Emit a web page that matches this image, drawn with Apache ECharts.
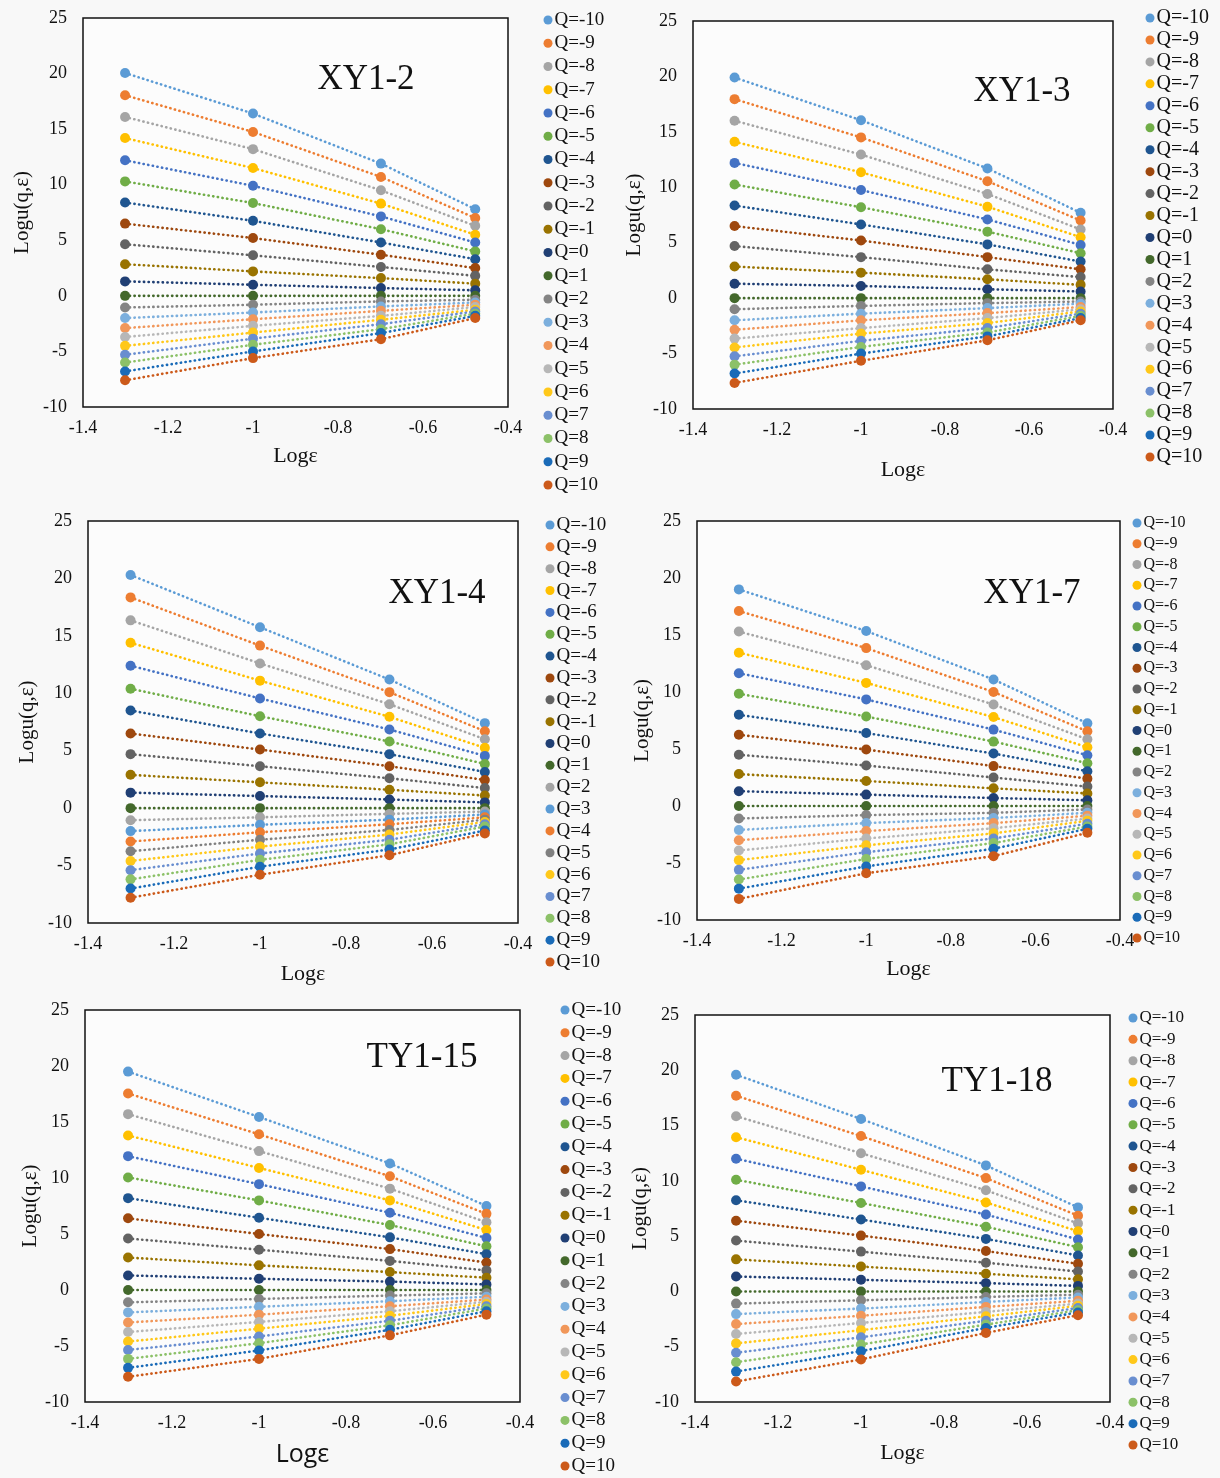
<!DOCTYPE html>
<html>
<head>
<meta charset="utf-8">
<script src="https://cdn.jsdelivr.net/npm/echarts@6/dist/echarts.min.js"></script>
<style>
  html, body { margin: 0; padding: 0; background: #f8f8f8; }
  #chart { width: 1220px; height: 1478px; }
</style>
</head>
<body>
<div id="chart"></div>
<script>
// ---------------- DATA ----------------
const X_VALUES = [-1.30103, -1, -0.69897, -0.47712];   // log(epsilon)
const Q_LABELS = ['Q=-10','Q=-9','Q=-8','Q=-7','Q=-6','Q=-5','Q=-4','Q=-3','Q=-2','Q=-1',
                  'Q=0','Q=1','Q=2','Q=3','Q=4','Q=5','Q=6','Q=7','Q=8','Q=9','Q=10'];
const X_TICKS = [-1.4, -1.2, -1, -0.8, -0.6, -0.4];
const Y_TICKS = [-10, -5, 0, 5, 10, 15, 20, 25];
const PANEL_NAMES = ['XY1-2', 'XY1-3', 'XY1-4', 'XY1-7', 'TY1-15', 'TY1-18'];

// values: one row per Q (Q=-10 ... Q=10), one column per X_VALUES entry
const XY1_2 = [
  [20.05,16.4,11.9,7.8],[18.05,14.75,10.7,7.0],[16.1,13.2,9.5,6.3],[14.2,11.5,8.3,5.5],
  [12.2,9.9,7.15,4.8],[10.3,8.35,6.0,4.0],[8.4,6.75,4.8,3.3],[6.5,5.2,3.7,2.5],
  [4.65,3.65,2.6,1.8],[2.85,2.2,1.6,1.1],[1.3,1.0,0.7,0.5],[0,0,0,0],
  [-1.05,-0.8,-0.5,-0.35],[-2.0,-1.5,-0.95,-0.6],[-2.9,-2.1,-1.35,-0.8],[-3.7,-2.7,-1.8,-1.0],
  [-4.5,-3.3,-2.15,-1.25],[-5.3,-3.85,-2.55,-1.4],[-6.0,-4.4,-3.0,-1.6],[-6.8,-5.0,-3.35,-1.8],
  [-7.6,-5.6,-3.9,-2.0]
];
const XY1_3 = [
  [19.9,16.05,11.7,7.7],[17.95,14.5,10.55,7.0],[16.0,12.95,9.4,6.2],[14.1,11.35,8.25,5.5],
  [12.2,9.75,7.1,4.8],[10.25,8.2,6.0,4.05],[8.35,6.65,4.85,3.3],[6.5,5.2,3.7,2.6],
  [4.7,3.7,2.6,1.9],[2.85,2.3,1.7,1.2],[1.3,1.1,0.8,0.6],[0,0,0,0],
  [-1.0,-0.7,-0.45,-0.3],[-2.0,-1.4,-0.9,-0.5],[-2.85,-2.0,-1.35,-0.8],[-3.65,-2.7,-1.8,-1.0],
  [-4.45,-3.2,-2.25,-1.2],[-5.25,-3.85,-2.7,-1.4],[-6.0,-4.4,-3.1,-1.6],[-6.8,-5.0,-3.45,-1.8],
  [-7.65,-5.65,-3.8,-2.0]
];
const XY1_4 = [
  [20.3,15.75,11.2,7.4],[18.35,14.15,10.1,6.7],[16.35,12.6,9.05,6.0],[14.4,11.1,7.95,5.25],
  [12.4,9.55,6.85,4.55],[10.4,8.0,5.8,3.85],[8.5,6.5,4.7,3.15],[6.5,5.1,3.65,2.45],
  [4.7,3.65,2.6,1.75],[2.9,2.25,1.6,1.1],[1.35,1.05,0.75,0.5],[0,0,0,0],
  [-1.05,-0.8,-0.5,-0.3],[-2.0,-1.45,-1.0,-0.55],[-2.9,-2.1,-1.4,-0.8],[-3.75,-2.75,-1.9,-1.0],
  [-4.6,-3.35,-2.3,-1.2],[-5.4,-3.95,-2.75,-1.4],[-6.2,-4.5,-3.15,-1.6],[-7.0,-5.1,-3.6,-1.95],
  [-7.8,-5.8,-4.1,-2.2]
];
const XY1_7 = [
  [19.0,15.35,11.1,7.25],[17.1,13.85,10.0,6.55],[15.3,12.35,8.9,5.85],[13.45,10.8,7.8,5.15],
  [11.65,9.35,6.7,4.45],[9.85,7.85,5.65,3.75],[8.0,6.4,4.6,3.05],[6.25,4.95,3.5,2.4],
  [4.5,3.55,2.5,1.7],[2.8,2.2,1.55,1.1],[1.3,1.0,0.7,0.5],[0,0,0,0],
  [-1.1,-0.8,-0.6,-0.3],[-2.1,-1.5,-1.05,-0.6],[-3.0,-2.2,-1.5,-0.85],[-3.9,-2.85,-1.95,-1.1],
  [-4.75,-3.45,-2.4,-1.3],[-5.6,-4.05,-2.85,-1.55],[-6.45,-4.65,-3.25,-1.8],[-7.25,-5.3,-3.75,-2.0],
  [-8.15,-5.9,-4.4,-2.35]
];
const TY1_15 = [
  [19.5,15.45,11.3,7.5],[17.55,13.9,10.15,6.8],[15.7,12.4,9.05,6.05],[13.8,10.9,8.0,5.35],
  [11.95,9.45,6.9,4.65],[10.05,8.0,5.8,3.9],[8.2,6.45,4.7,3.2],[6.4,5.0,3.65,2.45],
  [4.6,3.6,2.6,1.75],[2.9,2.2,1.6,1.1],[1.3,1.0,0.75,0.5],[0,0,0,0],
  [-1.1,-0.8,-0.5,-0.3],[-2.0,-1.5,-1.0,-0.6],[-2.9,-2.2,-1.45,-0.85],[-3.75,-2.85,-1.9,-1.05],
  [-4.6,-3.45,-2.3,-1.25],[-5.35,-4.15,-2.75,-1.45],[-6.15,-4.75,-3.15,-1.65],[-6.95,-5.4,-3.55,-1.9],
  [-7.75,-6.15,-4.05,-2.2]
];
const TY1_18 = [
  [19.6,15.6,11.4,7.6],[17.7,14.05,10.25,6.85],[15.85,12.5,9.15,6.15],[13.95,11.0,8.05,5.45],
  [12.0,9.5,6.95,4.7],[10.1,8.0,5.85,4.0],[8.25,6.5,4.75,3.25],[6.4,5.05,3.65,2.5],
  [4.6,3.6,2.6,1.8],[2.9,2.25,1.6,1.1],[1.35,1.05,0.75,0.5],[0,0,0,0],
  [-1.1,-0.8,-0.5,-0.3],[-2.05,-1.55,-0.95,-0.55],[-2.95,-2.2,-1.4,-0.85],[-3.85,-2.85,-1.85,-1.1],
  [-4.7,-3.5,-2.25,-1.3],[-5.55,-4.15,-2.65,-1.5],[-6.4,-4.8,-3.0,-1.7],[-7.25,-5.4,-3.3,-1.9],
  [-8.15,-6.15,-3.75,-2.15]
];
const PANEL_DATA = [XY1_2, XY1_3, XY1_4, XY1_7, TY1_15, TY1_18];

// ---------------- STYLE / LAYOUT ----------------
const COLORS = ['#5B9BD5','#ED7D31','#A5A5A5','#FFC000','#4472C4','#70AD47','#1F5590','#9E480E',
                '#636363','#997300','#203F74','#43682B','#848484','#7CAFDD','#F1975A','#B7B7B7',
                '#FFC81A','#698ED0','#8CC168','#1A6BB8','#CC5A1A'];
const COLORS_XY14 = COLORS.slice();
COLORS_XY14[12] = '#A5A5A5'; COLORS_XY14[13] = '#5B9BD5'; COLORS_XY14[14] = '#ED7D31'; COLORS_XY14[15] = '#808080';

const SERIF = '"Liberation Serif", "Times New Roman", serif';

const LAYOUT = [
  { grid:[83,18,425,389],   title:[366,80],   leg:{x:548, y:20,   step:23.25, fs:19}, yGap:50, xGap:38 },
  { grid:[693,21,420,388],  title:[1022,92],  leg:{x:1150,y:18,   step:21.95, fs:20}, yGap:48, xGap:50 },
  { grid:[88,521,430,402],  title:[437,594],  leg:{x:550, y:525,  step:21.85, fs:19}, yGap:50, xGap:40 },
  { grid:[697,521,423,399], title:[1032,594], leg:{x:1137,y:523,  step:20.75, fs:16}, yGap:36, xGap:38 },
  { grid:[85,1010,435,392], title:[422,1058], leg:{x:565, y:1010, step:22.8,  fs:19}, yGap:44, xGap:40 },
  { grid:[695,1015,415,387],title:[997,1082], leg:{x:1133,y:1018, step:21.35, fs:17}, yGap:38, xGap:40 }
];

const grids = [], xAxes = [], yAxes = [], legends = [], series = [], graphics = [];

LAYOUT.forEach((L, p) => {
  const [gl, gt, gw, gh] = L.grid;
  const colors = p === 2 ? COLORS_XY14 : COLORS;
  grids.push({ left: gl, top: gt, width: gw, height: gh, show: true,
               borderColor: '#111', borderWidth: 1.5, backgroundColor: '#fcfcfc', containLabel: false });
  xAxes.push({
    type: 'value', gridIndex: p, min: X_TICKS[0], max: X_TICKS[X_TICKS.length - 1], interval: 0.2,
    name: 'Logε', nameLocation: 'middle', nameGap: L.xGap,
    nameTextStyle: p === 4
      ? { fontFamily: '"Open Sans", sans-serif', fontSize: 25, color: '#111' }
      : { fontFamily: SERIF, fontSize: 22, color: '#111' },
    axisLine: { show: false }, axisTick: { show: false }, splitLine: { show: false },
    axisLabel: { fontFamily: SERIF, fontSize: 18, color: '#111', margin: 12,
                 formatter: v => String(Math.round(v * 10) / 10) }
  });
  yAxes.push({
    type: 'value', gridIndex: p, min: Y_TICKS[0], max: Y_TICKS[Y_TICKS.length - 1], interval: 5,
    name: 'Logu(q,ε)', nameLocation: 'middle', nameGap: L.yGap, nameRotate: 90,
    nameTextStyle: { fontFamily: SERIF, fontSize: 21, color: '#111' },
    axisLine: { show: false }, axisTick: { show: false }, splitLine: { show: false },
    axisLabel: { fontFamily: SERIF, fontSize: 18, color: '#111', margin: 16 }
  });
  const lh = L.leg.fs + 1;
  legends.push({
    orient: 'vertical', left: L.leg.x - 4.5, top: L.leg.y - lh / 2, padding: 0,
    itemGap: L.leg.step - lh, itemWidth: 9, itemHeight: 9, icon: 'circle', selectedMode: false,
    textStyle: { fontFamily: SERIF, fontSize: L.leg.fs, lineHeight: lh, color: '#111', padding: [0,0,0,-3] },
    data: Q_LABELS.map((n, i) => ({ name: n, itemStyle: { color: colors[i] } }))
  });
  graphics.push({
    type: 'text', x: L.title[0], y: L.title[1], z: 100,
    style: { text: PANEL_NAMES[p], fontFamily: SERIF, fontSize: 35, fill: '#111',
             align: 'center', verticalAlign: 'middle' }
  });
  PANEL_DATA[p].forEach((row, i) => {
    series.push({
      name: Q_LABELS[i], type: 'line', xAxisIndex: p, yAxisIndex: p,
      data: X_VALUES.map((x, k) => [x, row[k]]),
      symbol: 'circle', symbolSize: 10, showSymbol: true, animation: false,
      itemStyle: { color: colors[i] },
      lineStyle: { color: colors[i], width: 2.6, type: [0.3, 4.4], cap: 'round' },
      emphasis: { disabled: true }
    });
  });
});

const chart = echarts.init(document.getElementById('chart'), null, { renderer: 'canvas' });
chart.setOption({
  backgroundColor: '#f8f8f8',
  animation: false,
  grid: grids, xAxis: xAxes, yAxis: yAxes, legend: legends, series: series,
  graphic: graphics
});
</script>
</body>
</html>
